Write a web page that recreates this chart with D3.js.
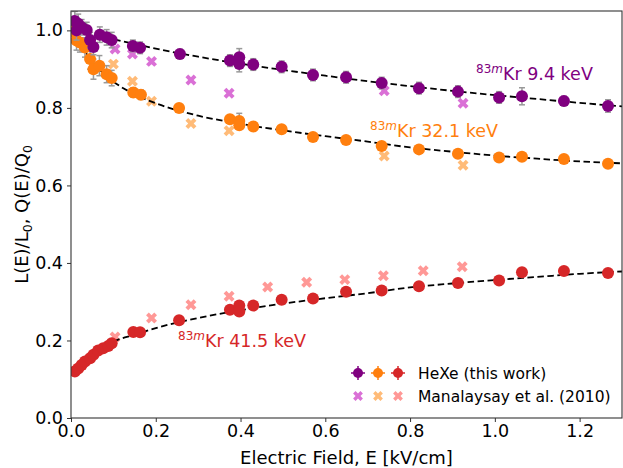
<!DOCTYPE html>
<html><head><meta charset="utf-8">
<script src="https://cdn.jsdelivr.net/npm/d3@7"></script>
<style>body{margin:0;background:#fff}text{font-family:"DejaVu Sans",sans-serif}</style>
</head><body><svg id="c" width="623" height="468"></svg>
<script>
// HeXe (this work)
const purpleX = [0.009,0.013,0.017,0.025,0.037,0.045,0.053,0.068,0.084,0.096,0.146,0.163,0.257,0.375,0.397,0.397,0.430,0.497,0.571,0.649,0.733,0.821,0.913,1.010,1.064,1.163,1.267];
const purpleY = [1.024,1.000,1.017,1.008,1.001,0.975,0.957,0.989,0.982,0.975,0.960,0.955,0.939,0.922,0.931,0.913,0.912,0.906,0.885,0.879,0.864,0.851,0.842,0.827,0.830,0.818,0.805];
const purpleE = [0.025,0.025,0.025,0.02,0.02,0.02,0.02,0.02,0.02,0.02,0.015,0.015,0.012,0.015,0.022,0.02,0.015,0.015,0.015,0.015,0.015,0.015,0.015,0.015,0.022,0.012,0.016];
const orangeX = [0.004,0.013,0.021,0.033,0.045,0.053,0.067,0.084,0.096,0.147,0.165,0.255,0.375,0.397,0.397,0.430,0.497,0.571,0.649,0.733,0.821,0.913,1.010,1.064,1.163,1.267];
const orangeY = [0.998,0.974,0.969,0.956,0.926,0.900,0.909,0.887,0.877,0.840,0.834,0.800,0.771,0.766,0.755,0.752,0.745,0.725,0.717,0.702,0.693,0.682,0.672,0.674,0.668,0.656];
const orangeE = [0.025,0.025,0.025,0.025,0.026,0.026,0.026,0.022,0.02,0.012,0.012,0.01,0.01,0.02,0.01,0.01,0.008,0.008,0.008,0.008,0.008,0.008,0.008,0.008,0.008,0.008];
const redX = [0.009,0.017,0.025,0.033,0.045,0.053,0.064,0.076,0.088,0.096,0.147,0.163,0.255,0.375,0.397,0.397,0.430,0.497,0.571,0.649,0.733,0.821,0.913,1.010,1.064,1.163,1.267];
const redY = [0.120,0.128,0.137,0.146,0.154,0.163,0.174,0.180,0.186,0.193,0.222,0.221,0.252,0.279,0.290,0.275,0.290,0.305,0.308,0.326,0.329,0.340,0.348,0.355,0.376,0.379,0.374];
// Manalaysay et al. (2010)
const manPurpleX = [0.104,0.145,0.190,0.283,0.373,0.739,0.925];
const manPurpleY = [0.952,0.939,0.920,0.872,0.838,0.844,0.812];
const manOrangeX = [0.100,0.145,0.190,0.283,0.373,0.739,0.925];
const manOrangeY = [0.913,0.869,0.817,0.760,0.741,0.676,0.652];
const manRedX = [0.104,0.190,0.283,0.373,0.464,0.556,0.646,0.737,0.831,0.923];
const manRedY = [0.209,0.258,0.292,0.314,0.338,0.350,0.357,0.367,0.380,0.390];
// fit curves
const fitX = [0.01,0.05,0.1,0.15,0.2,0.3,0.4,0.5,0.6,0.7,0.8,0.9,1.0,1.1,1.2,1.3];
const purpleFit = [1.0,0.99,0.977,0.965,0.953,0.932,0.914,0.898,0.883,0.869,0.856,0.844,0.833,0.823,0.813,0.804];
const orangeFit = [0.985,0.92,0.868,0.835,0.812,0.780,0.759,0.742,0.727,0.713,0.698,0.687,0.677,0.669,0.662,0.657];
const redFit = [0.115,0.16,0.197,0.215,0.232,0.258,0.278,0.295,0.309,0.322,0.337,0.347,0.356,0.364,0.372,0.378];
const xTicks = [0.0,0.2,0.4,0.6,0.8,1.0,1.2];
const yTicks = [0.0,0.2,0.4,0.6,0.8,1.0];

const svg = d3.select("#c");
const L=71,R=622,T=11,B=418;
const x = d3.scaleLinear().domain([0,1.3]).range([L,R]);
const y = d3.scaleLinear().domain([0,1.05]).range([B,T]);
const C = {p:"#800080",o:"#ff7f0e",r:"#d62728",mp:"#da70d6",mo:"#ffbb78",mr:"#ff9896"};

svg.append("clipPath").attr("id","clp").append("rect").attr("x",L).attr("y",T).attr("width",R-L).attr("height",B-T);
const g = svg.append("g").attr("clip-path","url(#clp)");

const xsym = d3.symbol().type(d3.symbolCross).size(75);
function manal(xs,ys,col){
  g.append("g").selectAll("path").data(xs).join("path")
   .attr("d",xsym).attr("fill",col)
   .attr("transform",(d,i)=>`translate(${x(d)},${y(ys[i])}) rotate(45)`);
}
manal(manPurpleX,manPurpleY,C.mp);
manal(manOrangeX,manOrangeY,C.mo);
manal(manRedX,manRedY,C.mr);

const line = d3.line().x((d,i)=>x(fitX[i])).y(d=>y(d)).curve(d3.curveMonotoneX);
[purpleFit,orangeFit,redFit].forEach(f=>{
  g.append("path").attr("d",line(f)).attr("fill","none").attr("stroke","#000")
   .attr("stroke-width",1.8).attr("stroke-dasharray","6.5,3.5");
});

function hexe(xs,ys,es,col){
  const gg = g.append("g");
  xs.forEach((xv,i)=>{
    if(es){
      const e=es[i];
      gg.append("line").attr("x1",x(xv)).attr("x2",x(xv)).attr("y1",y(ys[i]-e)).attr("y2",y(ys[i]+e)).attr("stroke","#999").attr("stroke-width",1.5);
      [ys[i]-e,ys[i]+e].forEach(v=>gg.append("line").attr("x1",x(xv)-3).attr("x2",x(xv)+3).attr("y1",y(v)).attr("y2",y(v)).attr("stroke","#999").attr("stroke-width",1.5));
    }
  });
  xs.forEach((xv,i)=>{
    gg.append("circle").attr("cx",x(xv)).attr("cy",y(ys[i])).attr("r",6).attr("fill",col);
  });
}
hexe(redX,redY,null,C.r);
hexe(orangeX,orangeY,orangeE,C.o);
hexe(purpleX,purpleY,purpleE,C.p);

// axes frame
svg.append("rect").attr("x",L).attr("y",T).attr("width",R-L).attr("height",B-T).attr("fill","none").attr("stroke","#333").attr("stroke-width",1.1);
const xa = svg.append("g").attr("transform",`translate(0,${B})`).call(d3.axisBottom(x).tickValues(xTicks).tickFormat(d3.format(".1f")).tickSize(4).tickPadding(3));
const ya = svg.append("g").attr("transform",`translate(${L},0)`).call(d3.axisLeft(y).tickValues(yTicks).tickFormat(d3.format(".1f")).tickSize(4).tickPadding(4));
[xa,ya].forEach(a=>{a.select(".domain").remove();a.selectAll("line").attr("stroke","#333");a.selectAll("text").attr("font-size",17.5).attr("fill","#000").style("font-family","DejaVu Sans");});

// labels
svg.append("text").attr("x",(L+R)/2).attr("y",464).attr("text-anchor","middle").attr("font-size",18).text("Electric Field, E [kV/cm]");
const yl = svg.append("text").attr("transform",`translate(28,${(T+B)/2}) rotate(-90)`).attr("text-anchor","middle").attr("font-size",18);
yl.append("tspan").text("L(E)/L");
yl.append("tspan").attr("font-size",12.5).attr("dy",4).text("0");
yl.append("tspan").attr("dy",-4).text(", Q(E)/Q");
yl.append("tspan").attr("font-size",12.5).attr("dy",4).text("0");

// annotations
function ann(px,py,label,col){
  const t = svg.append("text").attr("x",px).attr("y",py).attr("fill",col).attr("font-size",17.5);
  t.append("tspan").attr("font-size",12).attr("dy",-7).text("83");
  t.append("tspan").attr("font-size",12).attr("font-style","italic").text("m");
  t.append("tspan").attr("dy",7).text(label);
}
ann(476,80,"Kr 9.4 keV",C.p);
ann(370,137,"Kr 32.1 keV",C.o);
ann(178,347,"Kr 41.5 keV",C.r);

// legend
const lg = svg.append("g");
[[358,C.p],[378,C.o],[398,C.r]].forEach(([cx,col])=>{
  lg.append("line").attr("x1",cx-7).attr("x2",cx+7).attr("y1",373).attr("y2",373).attr("stroke",col).attr("stroke-width",1.5);
  lg.append("line").attr("x1",cx).attr("x2",cx).attr("y1",366).attr("y2",380).attr("stroke",col).attr("stroke-width",1.5);
  lg.append("circle").attr("cx",cx).attr("cy",373).attr("r",5).attr("fill",col);
});
[[358,C.mp],[378,C.mo],[398,C.mr]].forEach(([cx,col])=>{
  lg.append("path").attr("d",d3.symbol().type(d3.symbolCross).size(60)).attr("fill",col).attr("transform",`translate(${cx},396) rotate(45)`);
});
lg.append("text").attr("x",418).attr("y",379).attr("font-size",15.5).text("HeXe (this work)");
lg.append("text").attr("x",418).attr("y",402).attr("font-size",15.5).text("Manalaysay et al. (2010)");
</script></body></html>
